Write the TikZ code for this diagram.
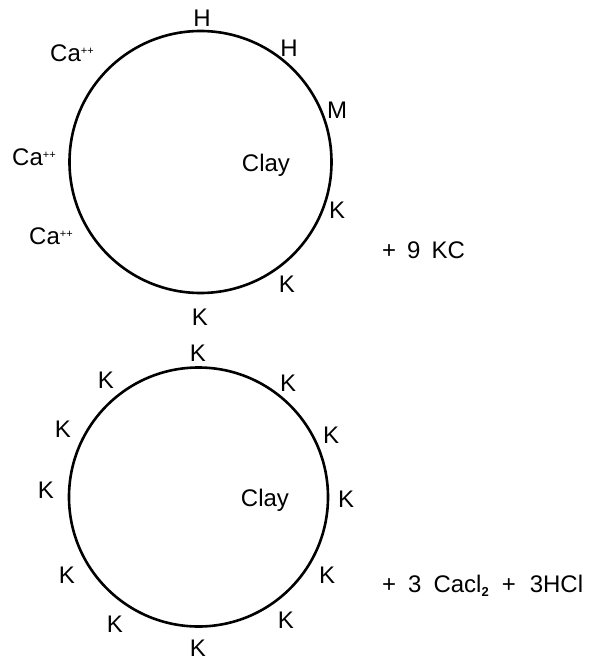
\documentclass[tikz,border=0pt]{standalone}
\usepackage{fontspec}
\setmainfont{Liberation Sans}
\newcommand{\ionpp}{\raisebox{7pt}{\fontsize{11}{11}\selectfont ++}}

\begin{document}
\begin{tikzpicture}[x=1pt, y=-1pt,
    ion/.style={anchor=base, inner sep=0pt, font=\fontsize{24}{28}\selectfont},
    particle/.style={draw, circle, line width=2.6pt, inner sep=0pt}]
    \useasboundingbox (0,0) rectangle (589,661);

    % clay before exchange
    \node[particle, minimum size=262pt] (clay1) at (200.5,162) {};
    \node[ion] (c1) at (266,171) {Clay};
    \node[ion] (h1) at (202,27) {H};
    \node[ion] (h2) at (289,57) {H};
    \node[ion] (m1) at (337,118) {M};
    \node[ion] (k1) at (337,218) {K};
    \node[ion] (k2) at (287,292) {K};
    \node[ion] (k3) at (200,325) {K};
    \node[ion] (ca1) at (72,62) {Ca\ionpp};
    \node[ion] (ca2) at (34,165) {Ca\ionpp};
    \node[ion] (ca3) at (51,244) {Ca\ionpp};
    \node[ion, anchor=base west] (r1) at (382,258)
        {+\hspace{11pt}9\hspace{11pt}KC};

    % clay after exchange
    \node[particle, minimum size=259pt] (clay2) at (198.5,497) {};
    \node[ion] (c2) at (265,506) {Clay};
    \foreach \name/\x/\y in {a/198/361, b/106/388, c/288/391, d/63/437,
        e/331/443, f/46/498, g/346/507, h/67/583, i/327/583,
        j/115/632, k/286/628, l/198/656}
        \node[ion] (k\name) at (\x,\y) {K};
    \node[ion, anchor=base west] (r2) at (382,592)
        {+\hspace{12pt}3\hspace{12pt}Cacl\raisebox{-4pt}{\fontsize{13}{13}\selectfont\bfseries 2}\hspace{13pt}+\hspace{14pt}3HCl};
\end{tikzpicture}
\end{document}
